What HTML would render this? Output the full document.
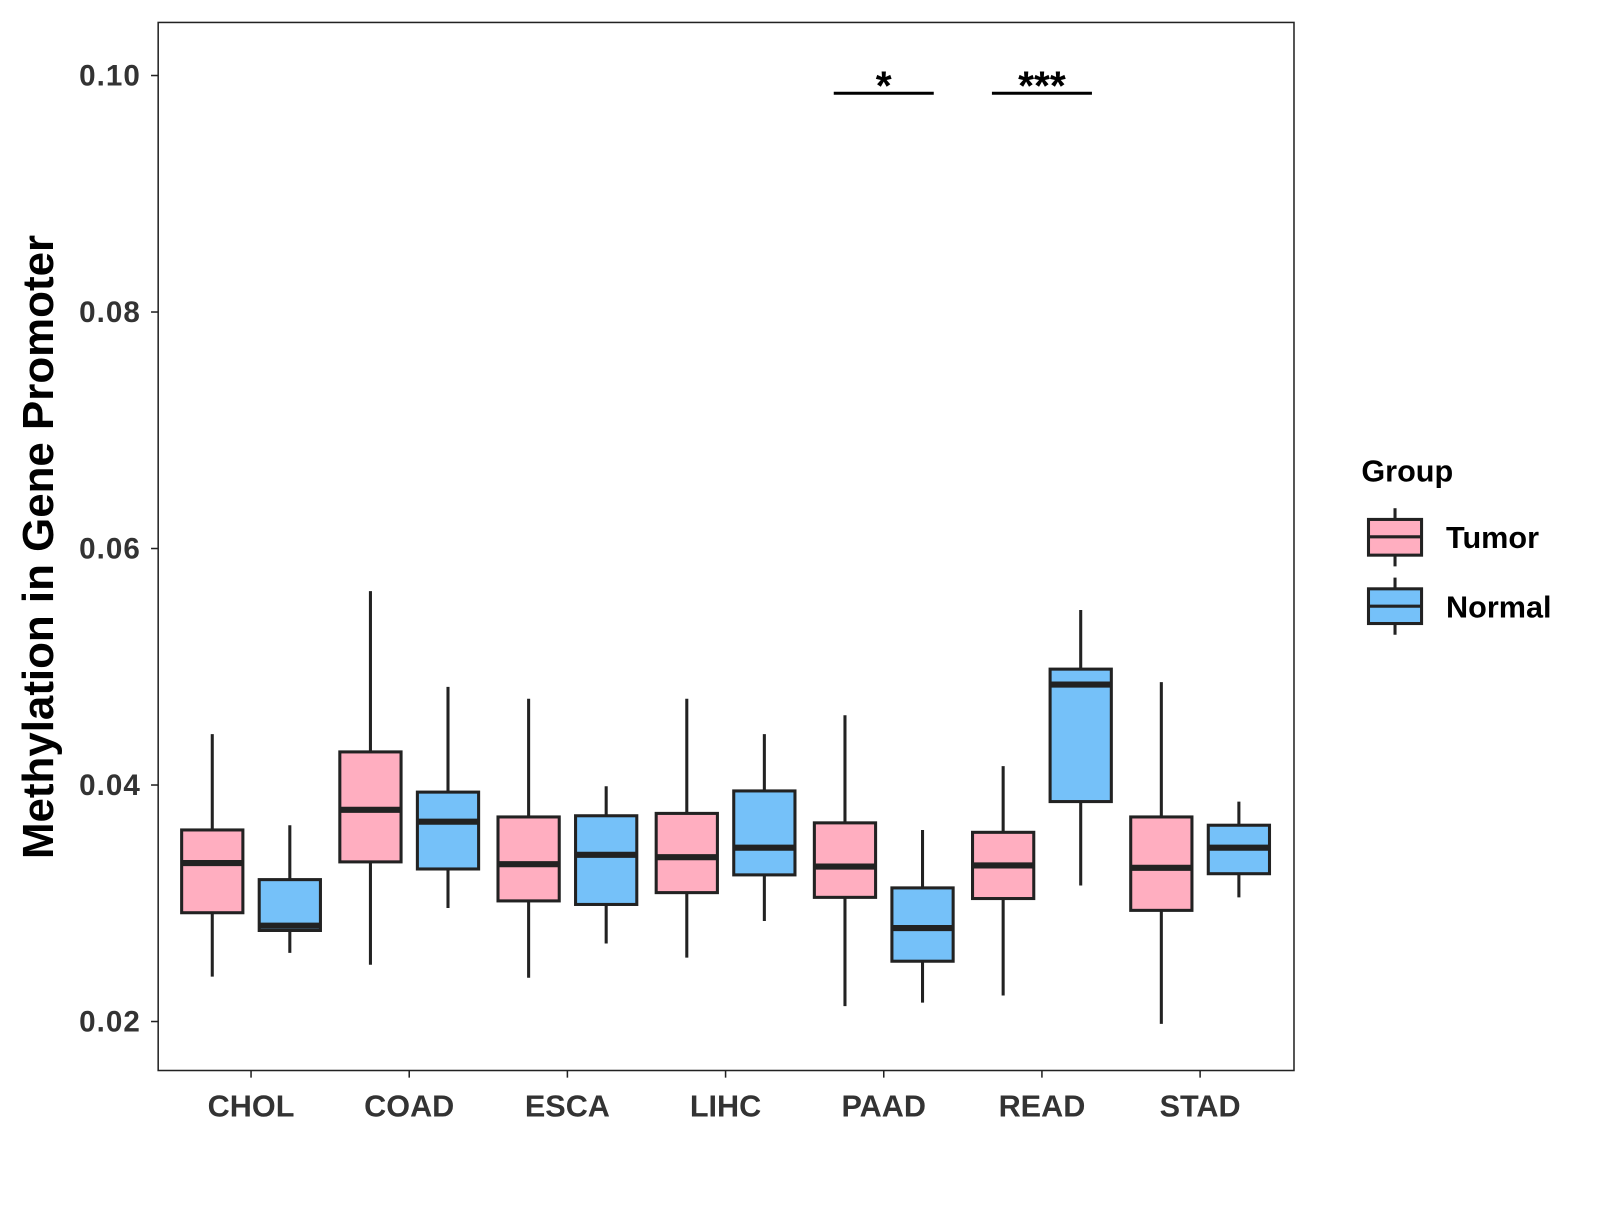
<!DOCTYPE html>
<html><head><meta charset="utf-8"><style>
body{margin:0;background:#fff}
svg text{font-family:"Liberation Sans",Arial,sans-serif;font-weight:bold}
</style></head><body>
<svg id="chart" width="1600" height="1200" xmlns="http://www.w3.org/2000/svg">
<g transform="scale(1.0205)">
<rect x="155" y="22" width="1113" height="1027" fill="#fff" stroke="#222" stroke-width="1.5"/>
<g id="marks"></g>
<text transform="translate(52,536) rotate(-90)" text-anchor="middle" font-size="43" fill="#000">Methylation in Gene Promoter</text>
<g>
<text x="1334" y="472" font-size="30" fill="#000">Group</text>
<g>
<line x1="1367" y1="498" x2="1367" y2="555" stroke="#222" stroke-width="3"/>
<rect x="1341" y="509" width="52" height="35" fill="#FFAEC0" stroke="#222" stroke-width="3"/>
<line x1="1341" y1="526" x2="1393" y2="526" stroke="#222" stroke-width="3"/>
<text x="1417" y="537" font-size="30" fill="#000">Tumor</text></g>
<g>
<line x1="1367" y1="566" x2="1367" y2="622" stroke="#222" stroke-width="3"/>
<rect x="1341" y="577" width="52" height="34" fill="#75C1F9" stroke="#222" stroke-width="3"/>
<line x1="1341" y1="594" x2="1393" y2="594" stroke="#222" stroke-width="3"/>
<text x="1417" y="605" font-size="30" fill="#000">Normal</text></g>
</g>
</g>
</svg>
<script>
const categories=["CHOL","COAD","ESCA","LIHC","PAAD","READ","STAD"];
// [max, q3, median, q1, min]
const tumorStats=[[0.0443,0.0362,0.0334,0.0292,0.0238],[0.0564,0.0428,0.0379,0.0335,0.0248],[0.0473,0.0373,0.0333,0.0302,0.0237],[0.0473,0.0376,0.0339,0.0309,0.0254],[0.0459,0.0368,0.0331,0.0305,0.0213],[0.0416,0.0360,0.0332,0.0304,0.0222],[0.0487,0.0373,0.0330,0.0294,0.0198]];
const normalStats=[[0.0366,0.0320,0.0281,0.0277,0.0258],[0.0483,0.0394,0.0369,0.0329,0.0296],[0.0399,0.0374,0.0341,0.0299,0.0266],[0.0443,0.0395,0.0347,0.0324,0.0285],[0.0362,0.0313,0.0279,0.0251,0.0216],[0.0548,0.0498,0.0485,0.0386,0.0315],[0.0386,0.0366,0.0347,0.0325,0.0305]];
const yTicks=[0.02,0.04,0.06,0.08,0.10];
const yTickLabels=["0.02","0.04","0.06","0.08","0.10"];
const sigCategories=["PAAD","READ"];
const sigLabels=["*","***"];
const sigLevel=0.0985;
const NS="http://www.w3.org/2000/svg";
const g=document.getElementById('marks');
const y=v=>74+(0.10-v)/0.02*231.75;
const x=i=>246+i*155;
function mk(t,a,parent){const e=document.createElementNS(NS,t);for(const k in a)e.setAttribute(k,a[k]);(parent||g).appendChild(e);return e;}
yTicks.forEach((v,i)=>{
 const t=mk('line',{x1:148,x2:155,y1:y(v),y2:y(v),stroke:'#222','stroke-width':1.5});
 
 
 const l=mk('text',{x:138,y:y(v)+10,'text-anchor':'end','font-size':29,'letter-spacing':1,fill:'#333'});
 
 
 l.textContent=yTickLabels[i];
});
categories.forEach((c,i)=>{
 const t=mk('line',{x1:x(i),x2:x(i),y1:1049,y2:1056,stroke:'#222','stroke-width':1.5});
 
 
 const l=mk('text',{x:x(i),y:1094,'text-anchor':'middle','font-size':30,fill:'#333'});
 
 
 l.textContent=c;
});
function box(cx,s,fill,name){
 const grp=mk('g',{});
 
 
 mk('line',{x1:cx,x2:cx,y1:y(s[0]),y2:y(s[4]),stroke:'#222','stroke-width':3},grp);
 mk('rect',{x:cx-30,y:y(s[1]),width:60,height:y(s[3])-y(s[1]),fill:fill,stroke:'#222','stroke-width':3},grp);
 mk('line',{x1:cx-30,x2:cx+30,y1:y(s[2]),y2:y(s[2]),stroke:'#222','stroke-width':6},grp);
}
categories.forEach((c,i)=>{
 box(x(i)-38,tumorStats[i],'#FFAEC0','box-tumor-'+c.toLowerCase());
 box(x(i)+38,normalStats[i],'#75C1F9','box-normal-'+c.toLowerCase());
});
sigCategories.forEach((c,k)=>{
 const i=categories.indexOf(c);
 const l=mk('line',{x1:x(i)-49,x2:x(i)+49,y1:y(sigLevel),y2:y(sigLevel),stroke:'#000','stroke-width':3});
 
 
 const t=mk('text',{x:x(i),y:y(sigLevel)+6,'text-anchor':'middle','font-size':40,fill:'#000'});
 
 
 t.textContent=sigLabels[k];
});
</script>
</body></html>
